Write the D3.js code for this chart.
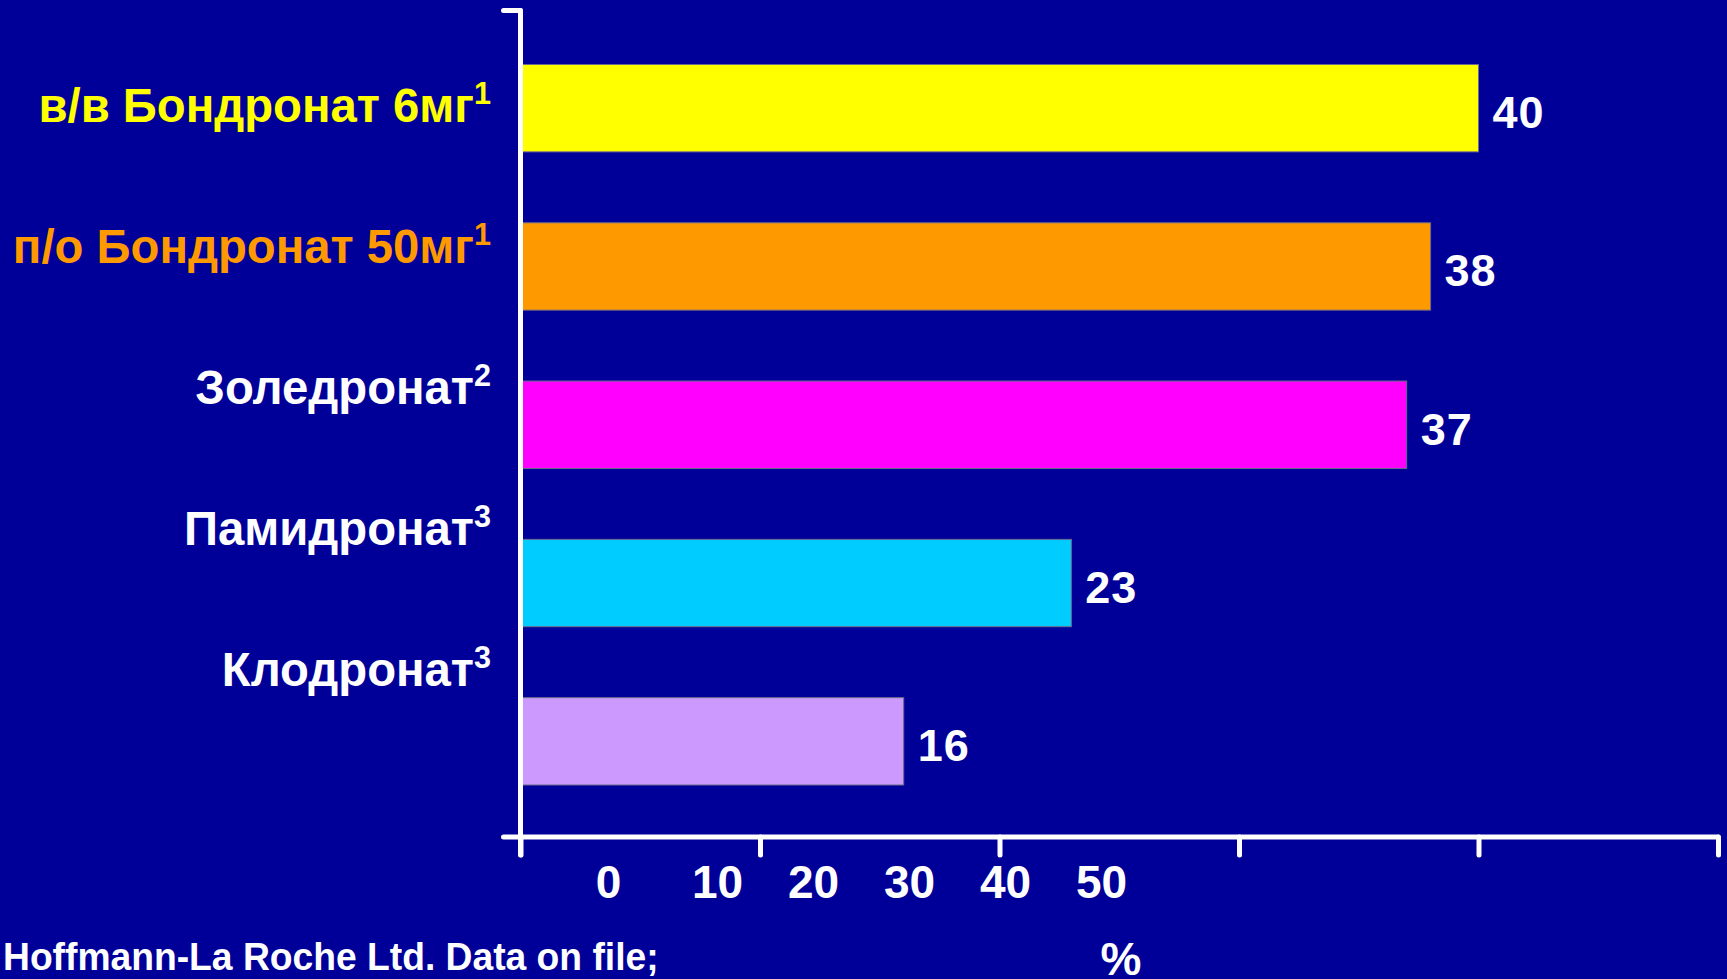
<!DOCTYPE html>
<html>
<head>
<meta charset="utf-8">
<script src="https://cdn.jsdelivr.net/npm/d3@7"></script>
<style>
  html, body { margin: 0; padding: 0; background: #000099; overflow: hidden; }
  svg { display: block; }
  text { font-family: "Liberation Sans", Arial, Helvetica, sans-serif; font-weight: bold; }
</style>
</head>
<body>
<svg id="chart" width="1727" height="979"></svg>
<script>
// ---- data ----
const categories = ["в/в Бондронат 6мг", "п/о Бондронат 50мг", "Золедронат", "Памидронат", "Клодронат"];
const refMarks = ["1", "1", "2", "3", "3"];
const values = [40, 38, 37, 23, 16];
const barColors = ["#FFFF00", "#FF9900", "#FF00FF", "#00CCFF", "#CC99FF"];
const labelColors = ["#FFFF00", "#FF9900", "#FFFFFF", "#FFFFFF", "#FFFFFF"];
const xTicks = [0, 10, 20, 30, 40, 50];
const xTickLabels = ["0", "10", "20", "30", "40", "50"];
const unitLabel = "%";
const footnote = "Hoffmann-La Roche Ltd. Data on file;";

// ---- layout ----
const svg = d3.select("#chart");
svg.append("rect").attr("width", 1727).attr("height", 979).attr("fill", "#000099");

const x = d3.scaleLinear().domain([0, 50]).range([520.5, 1718]);
const y = d3.scaleBand().domain(categories).range([64.5, 785]).paddingInner(0.448).paddingOuter(0);
const labelY = d3.scalePoint().domain(categories).range([122, 686]);
// the tick labels sit in their own (offset) row below the axis, as in the original slide
const tickLabelX = d3.scaleLinear().domain([0, 10, 50]).range([608.5, 717.5, 1101.5]);

const data = categories.map((c, i) => ({ cat: c, ref: refMarks[i], value: values[i], color: barColors[i], lcolor: labelColors[i] }));

// bars
svg.append("g").selectAll("rect").data(data).join("rect")
  .attr("x", x(0))
  .attr("y", d => y(d.cat))
  .attr("width", d => x(d.value) - x(0))
  .attr("height", y.bandwidth())
  .attr("fill", d => d.color)
  .attr("stroke", "#6a6a8a")
  .attr("stroke-width", 1);

// value labels
svg.append("g").selectAll("text").data(data).join("text")
  .attr("x", d => x(d.value) + 14)
  .attr("y", d => y(d.cat) + y.bandwidth() / 2 + 20)
  .attr("fill", "#FFFFFF")
  .attr("font-size", 45)
  .attr("letter-spacing", 1)
  .text(d => d.value);

// category labels (slightly condensed, like the original)
const lab = svg.append("g").selectAll("text").data(data).join("text")
  .attr("transform", d => `translate(491,${labelY(d.cat)}) scale(0.985,1)`)
  .attr("text-anchor", "end")
  .attr("fill", d => d.lcolor)
  .attr("font-size", 48);
lab.append("tspan").text(d => d.cat);
lab.append("tspan").attr("font-size", 31).attr("dy", -18).text(d => d.ref);

// axes
const axisG = svg.append("g");
const axisStyle = sel => sel.attr("stroke", "#FFFFFF").attr("stroke-width", 5).attr("stroke-linecap", "round").attr("fill", "none");

const xAxis = d3.axisBottom(x).tickValues(xTicks).tickSize(18).tickSizeOuter(0).tickFormat("");
const gx = axisG.append("g").attr("transform", "translate(0,837)").call(xAxis);
gx.select(".domain").remove();
gx.selectAll(".tick line").call(axisStyle);

// x-axis baseline, extended slightly left of the y axis
axisG.append("line").attr("x1", x(0) - 17).attr("x2", x(50)).attr("y1", 837).attr("y2", 837).call(axisStyle);
// y axis line
axisG.append("line").attr("x1", x(0)).attr("x2", x(0)).attr("y1", 10.5).attr("y2", 855).call(axisStyle);
// top tick of the y axis
axisG.append("line").attr("x1", x(0) - 17).attr("x2", x(0)).attr("y1", 10.5).attr("y2", 10.5).call(axisStyle);

// tick labels
svg.append("g").selectAll("text").data(xTicks).join("text")
  .attr("x", d => tickLabelX(d))
  .attr("y", 898)
  .attr("text-anchor", "middle")
  .attr("fill", "#FFFFFF")
  .attr("font-size", 46)
  .text((d, i) => xTickLabels[i]);

// unit label
svg.append("text").attr("x", 1121).attr("y", 975).attr("text-anchor", "middle")
  .attr("fill", "#FFFFFF").attr("font-size", 46).text(unitLabel);

// footnote
svg.append("text").attr("transform", "translate(3,970) scale(0.98,1)")
  .attr("fill", "#FFFFFF").attr("font-size", 38).text(footnote);
</script>
</body>
</html>
